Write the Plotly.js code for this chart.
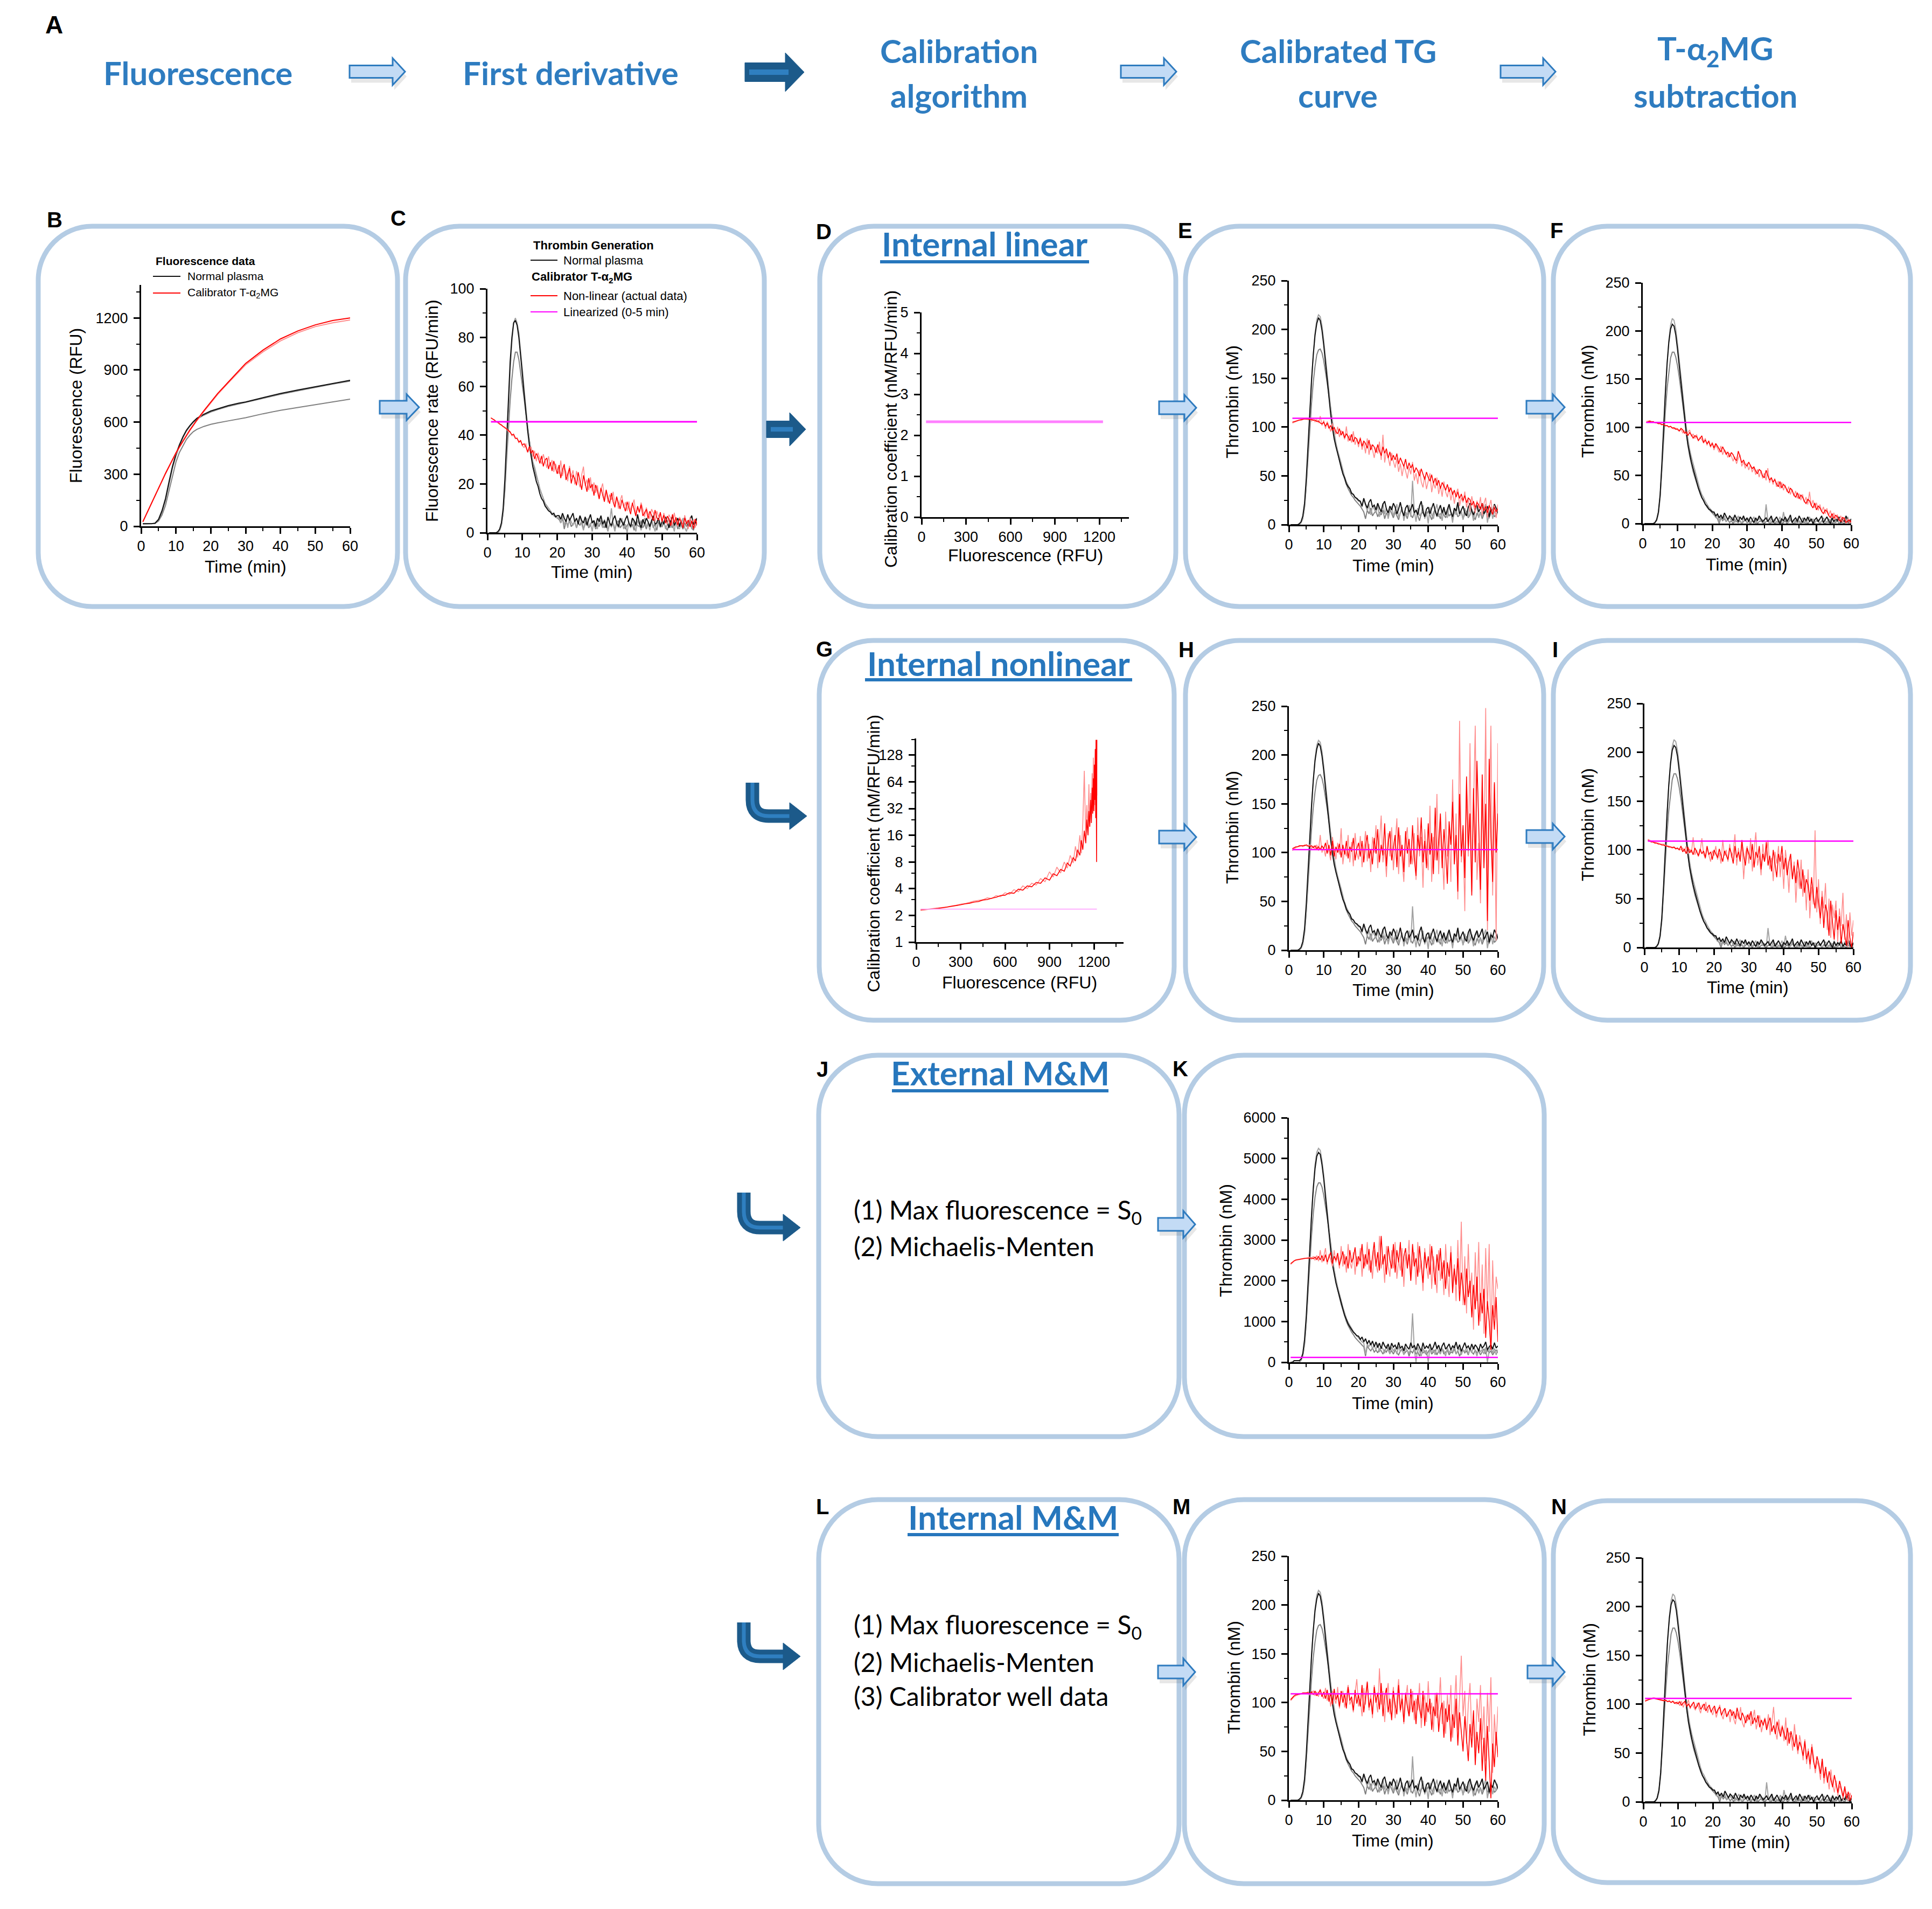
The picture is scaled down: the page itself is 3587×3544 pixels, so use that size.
<!DOCTYPE html>
<html>
<head>
<meta charset="utf-8">
<script src="https://cdn.plot.ly/plotly-3.0.1.min.js"></script>
<style>
  body { margin: 0; background: #ffffff; }
  #chart { width: 3587px; height: 3544px; }
</style>
</head>
<body>
<div id="chart"></div>
<script>
// ---------------- data ----------------
// time grid of the kinetic reads (min)
var tMin = [
  0.5,1,1.5,2,2.5,3,3.5,4,4.5,5,
  5.5,6,6.5,7,7.5,8,8.5,9,9.5,10,
  10.5,11,11.5,12,12.5,13,13.5,14,14.5,15,
  15.5,16,16.5,17,17.5,18,18.5,19,19.5,20,
  20.5,21,21.5,22,22.5,23,23.5,24,24.5,25,
  25.5,26,26.5,27,27.5,28,28.5,29,29.5,30,
  30.5,31,31.5,32,32.5,33,33.5,34,34.5,35,
  35.5,36,36.5,37,37.5,38,38.5,39,39.5,40,
  40.5,41,41.5,42,42.5,43,43.5,44,44.5,45,
  45.5,46,46.5,47,47.5,48,48.5,49,49.5,50,
  50.5,51,51.5,52,52.5,53,53.5,54,54.5,55,
  55.5,56,56.5,57,57.5,58,58.5,59,59.5,60
];

// B: raw fluorescence (RFU)
var tB = [0.5,1,2,3,4,5,6,7,8,9,10,11,12,13,14,15,16,18,20,22,25,28,30,35,40,45,50,55,60];
var fluoPlasma1 = [15,15,15,15,18,40,90,160,255,345,415,470,515,553,580,603,622,645,664,677,695,709,716,741,765,785,804,823,841];
var fluoPlasma2 = [14,14,14,14,16,35,82,150,245,335,405,462,510,548,576,599,617,640,658,672,690,704,712,737,760,780,800,819,836];
var fluoPlasma3 = [15,15,15,15,16,30,65,120,205,295,370,425,462,500,525,545,558,575,587,596,607,617,625,648,668,684,700,716,732];
var fluoCal1 = [26,47,92,135,178,220,262,305,345,385,423,458,492,523,555,585,612,665,716,765,830,895,938,1015,1079,1125,1160,1185,1200];
var fluoCal2 = [26,46,90,133,176,218,260,302,342,382,420,455,489,520,551,581,608,660,711,760,825,888,930,1005,1068,1115,1150,1172,1188];

// C: first derivative (RFU/min)
var rateC1 = [
  0,0,0,0,0,0.5,1.5,4,10,22,
  38,55,70,80,86,87,85,80,73,65,
  57,49,42,36,31,27,24,21,19,16,
  14,13,11,10,9,8.5,7.5,8,6.5,7,
  7,5.5,8,6,4.5,7.5,5,6.5,8,4.5,
  6,3.5,7,5,4,6.5,3,5.5,7.5,4,
  5,2.5,6,4.5,7,3.5,5,2,6.5,4,
  3,5.5,7,4,2.5,6,4.5,3,5.5,7,
  4,2.5,6,5,3,7.5,4,2,5.5,3.5,
  6,4.5,2.5,5,7,3.5,4,6,2.5,5,
  3.5,6.5,4,2,5,7,3,4.5,6,2.5,
  5,3,6.5,4,2.5,5.5,7,3.5,4,6
];
var rateC2 = [
  0,0,0,0,0,0,1,3,8,18,
  33,50,66,78,86,88,86,82,75,67,
  59,51,44,38,33,29,27,24,21,18,
  16,14,12,11,10,9,8,7,7,6,
  6.5,4,7,3,5.5,2,6,4.5,3,5,
  2,5,7,3.5,1,4.5,6,2.5,4,0.5,
  5,3,1.5,6,4,2,5.5,3,0.5,4.5,
  10,3.5,0.5,5,2,4,6,1.5,3.5,0,
  4.5,2,6,3,0.5,5,3.5,1,4,6,
  2.5,4,1,5.5,3,0.5,4.5,6,2,3.5,
  5,1.5,3.5,6,2,4,0.5,5,3,1.5,
  4,6,2,0.5,3.5,5.5,1.5,4.5,2.5,5
];
var rateC3 = [
  0,0,0,0,0,0,1,3,8,17,
  30,43,54,63,70,74,74,71,66,61,
  55,49,43,38,33,29,26,23,21,18,
  16,14,12,11,10,9,8,7,6.5,6,
  5.5,4,6,1.5,4.5,3,5,2.5,3.5,4.5,
  2,4,3,5,1.5,3.5,4.5,2,3,5,
  3.5,1.5,4,2.5,5,3,2,4.5,1,3.5,
  2.5,4,1.5,3.5,5,2,3,4.5,1.5,3,
  4,2,3.5,1,4.5,3,2.5,5,2,3.5,
  1.5,4,3,5,2,3.5,1,4.5,3,2.5,
  4,2.5,1,3.5,5,2,3,4.5,1.5,3.5,
  3,1.5,4,2.5,5,3.5,2,1,4,3
];
var rateCalC1 = [
  null,47,46.5,46.2,45.5,45.3,44.6,44.2,43.5,43.2,
  42.4,42,41.2,40.1,40.4,38.8,38.6,37.2,37.8,35.9,
  36.5,35.2,33.1,35.4,32.6,33.8,30.2,32.5,31,28.4,
  31.5,27.2,29.8,30.6,26.1,28.9,25.3,29.4,26.6,24.1,
  27.8,22.4,25.9,28.1,21.6,24.3,26.5,20.2,23.7,22.1,
  19.4,24.8,21.2,17.6,23.5,20.1,16.8,22.4,18.3,19.9,
  15.2,19.6,17.1,13.8,18.4,15.5,12.7,17.6,14.2,11.9,
  16.3,12.6,10.4,14.8,12.1,9.7,13.5,11.2,8.8,12.7,
  10.1,7.6,12.3,9.2,6.8,10.9,8.4,11.5,6.9,8.2,
  9.6,5.7,8.8,7.1,4.9,9.3,6.2,5.1,8.4,4.6,
  7.2,3.9,6.8,5.5,2.8,7.6,4.1,6.3,3.2,5.8,
  4.3,1.9,6.1,3.6,5.2,2.4,4.9,1.6,5.7,3.3
];
var rateCalC2 = [
  null,47.2,46.6,46,45.4,45,44.4,44,43.6,42.8,
  42.6,41.3,41.5,39.7,39.9,38.5,38.9,36.9,37.6,35.6,
  34.9,36.6,32.8,34.1,35.2,31.1,33.6,29.3,32.8,30.4,
  28.1,32.2,29.4,26.6,31.3,27.4,29.8,24.9,28.3,26.2,
  24.1,29.6,23.2,26.8,24.9,21.1,27.4,22.8,25.6,19.8,
  25.3,21.4,18.6,23.9,27.1,19.2,21.8,17.4,22.7,16.9,
  20.6,16.3,19.4,14.1,17.8,20.2,13.6,16.9,12.4,15.7,
  13.4,16.8,11.2,14.6,9.8,13.1,15.4,10.3,12.6,8.9,
  12.8,9.1,11.4,13.6,7.4,10.2,8.1,12.4,9.6,6.5,
  10.3,7.8,5.6,9.7,8.2,4.4,8.9,6.6,7.9,4.2,
  8.1,5.2,3.4,7.4,5.9,3.1,8.2,4.6,2.6,6.4,
  5.1,2.8,7.2,3.9,1.5,6.3,3.7,5.4,2.1,4.8
];
var tLin = [1, 60];
var tLin0 = [0.5, 60];
var rateLinC = [45.5, 45.5];

// D and G: calibration coefficient (nM/RFU/min) vs fluorescence (RFU)
var fluoLinD = [30, 1225];
var cfLinD = [2.33, 2.33];
var fluoG = [
  30,60,90,120,150,180,210,240,270,300,
  330,360,390,420,450,480,510,540,570,600,
  630,660,690,720,750,780,810,840,870,900,
  925,950,975,1000,1020,1040,1060,1075,1090,1105,
  1115,1125,1135,1145,1152,1160,1166,1172,1178,1183,
  1188,1192,1196,1200,1203,1206,1209,1212,1214,1216,
  1218,1220
];
var cfG1 = [
  2.30,2.32,2.35,2.38,2.40,2.44,2.48,2.52,2.58,2.63,
  2.70,2.74,2.82,2.86,2.98,3.02,3.12,3.20,3.35,3.38,
  3.60,3.55,3.95,3.85,4.30,4.20,4.70,4.60,5.30,5.00,
  5.90,5.60,6.60,6.30,7.80,7.20,9.00,8.20,11,9.5,
  14,11,18,13,24,16,30,20,40,22,
  55,28,70,30,100,40,150,25,190,60,
  8,190
];
var cfG2 = [
  2.30,2.33,2.36,2.38,2.42,2.46,2.50,2.56,2.60,2.68,
  2.72,2.80,2.90,2.95,3.00,3.15,3.10,3.35,3.25,3.60,
  3.45,3.90,3.70,4.30,4.00,4.60,4.40,5.20,4.80,6.20,
  5.40,7.00,6.00,8.00,6.80,9.50,7.80,12,9,16,
  10,22,85,14,35,18,60,20,48,26,
  80,30,120,40,70,35,110,50,160,30,
  130,45
];
var fluoLinG = [30, 1220];
var cfLinG = [2.35, 2.35];

// thrombin of normal plasma (nM), calibrated (E, H, M)
var thrPlasma1 = [
  0,0,0,0,0,1,3,9,22,48,
  82,118,148,174,194,206,212,209,199,184,
  166,148,130,113,99,88,80,73,66,59,
  52,48,42,39,37,32,31,28,27,25,
  24,19,27,21,17,23,26,18,20,15,
  22,17,13,21,24,16,12,19,15,22,
  18,11,16,23,14,9,17,20,13,16,
  21,12,15,10,19,24,13,8,16,18,
  11,17,22,14,9,15,20,12,18,10,
  16,21,13,8,17,14,23,11,15,19,
  12,9,18,22,14,10,16,20,13,17,
  22,11,15,19,8,16,13,21,17,12
];
var thrPlasma2 = [
  0,0,0,0,0,0,2,6,17,40,
  74,112,146,174,196,210,215,213,204,189,
  171,153,136,120,106,94,84,76,70,63,
  56,49,44,40,37,33,31,28,26,24,
  23,18,26,20,14,21,10,19,16,12,
  20,8,15,22,11,17,6,14,19,9,
  15,21,7,12,18,4,13,10,20,8,
  45,14,3,17,9,12,20,6,13,1,
  18,10,6,15,21,8,12,4,16,11,
  7,19,13,2,16,10,22,9,14,5,
  17,11,8,20,13,4,15,18,7,12,
  9,16,21,2,12,18,6,14,10,17
];
var thrPlasma3 = [
  0,0,0,0,0,0,2,7,18,40,
  68,98,124,146,162,174,179,180,176,168,
  157,145,132,118,104,92,82,73,66,58,
  52,46,41,37,33,30,28,25,23,21,
  19,16,13,6,15,11,17,9,12,14,
  8,13,10,15,6,12,9,16,11,7,
  13,9,5,12,15,8,11,6,14,10,
  7,12,15,9,4,11,13,8,10,14,
  9,5,12,16,8,11,6,13,10,7,
  14,9,11,5,12,15,8,10,13,6,
  11,14,7,10,16,9,5,12,8,13,
  6,11,14,9,7,12,15,8,10,13
];
// thrombin of normal plasma after T-a2MG subtraction (F, I, N)
var thrSub1 = [
  0,0,0,0,0,0,1,4,12,30,
  62,100,136,166,188,202,207,205,196,181,
  163,145,127,110,95,82,72,64,57,50,
  43,37,32,27,24,20,18,15,14,12,
  12,8,10,6,9,5,11,7,4,8,
  6,3,9,5,2,7,4,8,3,6,
  2,7,4,1,6,3,8,5,2,4,
  6,2,5,8,1,4,7,3,0,5,
  3,7,2,5,9,1,4,6,2,8,
  4,1,6,3,7,2,5,0,4,6,
  2,5,8,1,4,7,3,0,6,2,
  5,3,7,1,4,2,8,3,0,5
];
var thrSub2 = [
  0,0,0,0,0,0,1,3,10,27,
  58,97,134,166,190,206,213,211,202,187,
  169,151,133,116,101,88,77,69,62,55,
  48,41,35,30,27,23,20,17,15,13,
  10,6,9,3,7,4,8,2,5,6,
  3,7,1,5,8,2,0,6,3,4,
  5,1,4,7,0,3,6,2,4,1,
  20,4,0,6,2,5,1,3,7,0,
  12,3,5,1,6,2,4,0,5,3,
  1,6,3,0,4,7,2,5,1,3,
  4,0,2,6,3,1,5,2,7,0,
  3,5,1,0,6,2,4,7,1,3
];
var thrSub3 = [
  0,0,0,0,0,0,1,4,11,28,
  56,88,116,140,158,172,178,178,173,164,
  152,138,123,108,94,81,70,61,54,48,
  42,36,31,27,23,20,17,15,13,11,
  9,7,5,0,6,3,5,2,4,1,
  3,0,4,2,1,3,0,2,4,1,
  2,0,3,1,4,0,2,3,1,0,
  2,3,0,1,4,0,2,1,3,0,
  1,3,0,2,4,1,0,3,1,2,
  0,2,1,3,0,2,4,0,1,3,
  2,0,3,1,0,2,1,4,0,2,
  1,3,0,2,1,0,3,1,2,0
];
// thrombin of normal plasma, external M&M (K)
var thrK1 = [
  0,0,40,40,40,40,80,220,560,1150,
  1950,2850,3600,4250,4750,5050,5150,5100,4850,4500,
  4050,3600,3150,2750,2400,2150,1950,1780,1620,1450,
  1280,1150,1050,940,870,800,740,700,650,640,
  560,620,500,580,450,540,420,520,380,500,
  360,470,330,500,400,340,450,300,470,370,
  420,320,490,340,400,280,450,370,320,480,
  350,420,300,460,370,270,480,330,400,350,
  450,300,380,500,330,420,270,400,480,320,
  380,450,300,400,350,500,320,430,270,380,
  480,350,400,300,450,320,430,370,270,450,
  350,400,500,300,380,430,320,480,350,400
];
var thrK2 = [
  0,0,0,0,0,0,50,150,420,980,
  1800,2750,3600,4300,4850,5150,5250,5200,4950,4600,
  4150,3700,3250,2850,2500,2250,2050,1850,1700,1520,
  1350,1200,1080,980,900,820,760,700,650,600,
  560,500,470,200,440,390,470,330,410,300,
  460,250,380,330,220,420,300,200,370,280,
  340,200,390,260,310,180,360,280,230,330,
  1200,320,0,370,260,150,340,220,300,0,
  370,230,310,180,400,260,200,340,280,150,
  360,230,310,250,420,200,290,340,180,310,
  260,370,200,310,230,400,280,150,340,260,
  310,200,370,0,290,420,230,340,180,310
];
var thrK3 = [
  0,0,0,0,0,0,50,170,450,980,
  1700,2450,3100,3650,4050,4300,4400,4400,4300,4100,
  3850,3550,3250,2900,2550,2250,2000,1780,1600,1420,
  1270,1130,1000,900,810,740,680,610,560,520,
  470,420,380,150,400,330,280,350,250,300,
  230,330,280,200,300,250,350,230,280,200,
  300,230,180,280,330,200,250,300,150,280,
  230,330,200,250,150,300,230,280,180,250,
  330,200,250,300,180,280,230,330,200,250,
  300,180,250,230,330,200,280,150,250,300,
  230,280,180,330,250,200,300,230,280,180,
  250,330,200,300,230,280,180,250,300,230
];

// calibrator T-a2MG well, thrombin (nM) per method
var calE1 = [
  null,105,105.6,106.3,106.8,107.2,107.6,108.1,108.3,108.1,
  108.4,107.6,107.9,106.8,107.3,105.6,106.2,104.1,103.2,104.9,
  100.8,104.2,98.6,101.7,96.4,99.8,95.2,93.1,98.4,91.7,
  95.6,88.9,93.2,90.4,86.1,92.6,84.7,89.3,87.8,82.6,
  88.4,80.3,85.9,83.1,78.2,86.7,76.4,81.9,79.6,73.8,
  82.1,75.4,70.6,79.8,73.2,77.9,68.1,74.6,65.7,71.2,
  66.4,72.8,62.1,68.5,64.3,59.6,67.2,56.8,63.4,58.1,
  61.7,53.2,58.4,55.1,49.6,57.3,51.8,46.2,53.9,48.4,
  44.6,51.2,42.3,47.8,40.1,45.6,36.9,43.2,39.7,35.2,
  41.3,33.6,37.9,30.8,35.4,28.2,33.7,26.9,31.5,24.6,
  29.8,22.4,27.3,25.6,19.8,24.1,17.3,22.8,20.4,15.6,
  21.9,14.2,18.6,12.1,19.7,15.3,10.4,17.8,13.2,16.4
];
var calE2 = [
  null,104,104.8,105.9,106.4,107.1,106.8,107.7,108.6,109.2,
  107.3,108.9,106.1,108.2,105.4,107.6,104.3,111.2,101.6,106.8,
  98.3,105.6,101.2,95.4,103.8,97.1,92.6,100.4,89.8,96.3,
  93.1,87.4,100.6,85.2,91.8,84.1,95.7,81.9,88.3,79.4,
  89.6,76.8,84.2,73.1,88.4,71.6,82.3,76.9,68.4,79.2,
  72.8,85.1,66.3,92.1,63.7,74.9,69.2,60.1,73.6,64.8,
  58.3,67.9,54.1,62.7,49.8,60.6,55.2,47.3,58.9,51.6,
  64.2,45.1,52.8,41.6,56.3,43.9,38.2,49.7,36.4,44.1,
  52.6,33.2,42.9,37.1,48.3,31.4,39.8,28.6,44.2,33.5,
  28.1,38.6,24.9,34.2,21.4,31.7,36.8,19.2,27.5,22.8,
  33.9,17.6,26.2,13.4,29.1,20.3,11.8,24.6,16.7,28.3,
  9.4,21.8,27.6,7.2,18.1,25.3,11.6,19.8,6.9,20.7
];
var calF1 = [
  null,105,105.8,106.2,105.6,105.9,104.8,104.6,103.7,103.9,
  102.6,102.9,101.4,101.8,100.2,100.9,99.1,99.6,97.8,98.4,
  96.2,98.9,97.4,93.8,95.2,91.4,94.6,92.1,88.7,91.3,
  90.1,86.4,88.3,91.2,84.1,86.9,82.8,85.6,80.2,83.4,
  78.6,83.2,80.4,76.9,74.3,79.8,76.2,71.9,74.4,69.1,
  73.8,71.5,67.2,65.4,75.3,68.9,63.2,66.1,61.4,59.7,
  63.8,60.3,57.1,58.9,54.6,51.7,56.2,54.8,49.3,47.6,
  55.4,49.8,45.2,47.6,43.1,45.9,41.4,38.2,43.7,36.9,
  40.8,38.4,35.2,31.6,36.9,34.3,29.8,27.2,32.1,25.7,
  29.6,27.4,23.1,20.8,25.2,23.6,18.9,16.2,21.4,14.1,
  18.2,16.4,12.6,10.3,14.1,12.9,8.6,6.2,10.4,5.3,
  8.7,7.1,3.6,2.2,6.4,5.2,1.1,2.6,3.8,1.4
];
var calF2 = [
  null,106,106.3,106.9,106.1,105.7,105.4,104.9,104.2,103.6,
  103.4,102.7,102.1,101.3,100.6,101.2,99.4,98.1,99.3,97.2,
  95.8,97.9,94.1,96.6,92.3,94.9,97.2,90.4,93.1,88.2,
  92.4,85.6,89.8,87.1,83.4,88.6,81.2,86.3,79.1,84.5,
  76.3,81.4,78.2,73.8,80.6,71.4,76.8,74.2,68.6,73.1,
  70.3,64.8,69.4,62.1,67.8,71.6,59.4,64.2,57.3,62.8,
  55.6,60.9,53.4,58.1,50.7,56.3,48.2,55.1,46.9,52.4,
  44.8,57.6,42.3,48.1,40.6,46.9,38.1,44.2,36.4,42.8,
  34.6,40.3,32.8,38.4,30.2,35.6,28.4,33.9,26.1,31.2,
  24.3,30.4,22.1,27.6,19.8,33.1,18.2,24.4,16.3,21.6,
  13.7,19.8,12.4,17.3,10.2,15.8,8.4,13.6,6.1,11.2,
  4.2,9.4,2.6,8.1,1.3,6.7,0.4,5.2,0,3.1
];
var calH1 = [
  null,104,105,106,106,107,107,107,107,108,
  107,106,107,105,107,104,106,103,107,104,
  110,99,108,97,112,96,106,100,109,95,
  108,98,112,94,106,101,115,92,104,110,
  96,112,90,108,118,94,103,88,115,99,
  124,90,108,97,130,86,110,122,92,104,
  118,85,126,96,108,80,122,99,114,88,
  128,94,76,118,102,136,90,112,84,130,
  98,120,78,146,92,110,140,84,124,100,
  68,132,108,152,88,118,60,160,96,128,
  74,178,102,140,56,166,90,194,120,62,
  180,84,150,30,196,116,70,172,100,140
];
var calH2 = [
  null,102,104,105,106,106,107,106,108,107,
  106,108,104,107,103,108,102,118,100,105,
  96,113,101,92,116,104,93,110,98,125,
  88,104,96,118,90,111,86,120,100,93,
  117,85,104,122,91,109,80,116,100,128,
  84,112,138,90,104,75,120,96,126,82,
  106,135,78,118,92,70,114,126,85,104,
  88,120,72,136,96,116,64,124,100,82,
  148,70,116,92,160,78,132,104,62,142,
  96,124,70,175,88,140,52,235,90,120,
  40,170,96,212,60,140,230,72,110,48,
  160,90,248,20,120,230,56,170,10,212
];
var calI1 = [
  null,110,109,108,108,107,107,106,106,105,
  105,104,104,103,103,102,103,101,102,100,
  104,98,101,96,103,97,100,95,102,98,
  94,101,96,99,92,104,95,98,90,100,
  96,92,101,94,88,99,95,90,102,96,
  86,104,92,98,88,110,94,84,102,96,
  90,106,82,98,92,104,80,96,88,108,
  84,94,78,100,86,72,96,88,104,80,
  92,74,88,96,70,84,66,90,76,60,
  80,56,70,64,48,72,54,40,62,46,
  30,52,20,44,36,12,48,26,8,38,
  18,32,4,24,14,2,28,10,0,16
];
var calI2 = [
  null,111,110,109,108,108,107,107,106,106,
  106,105,104,104,103,103,102,102,101,101,
  100,102,98,104,96,101,97,113,95,100,
  93,98,112,96,91,102,95,88,99,94,
  104,90,97,86,110,94,100,88,106,92,
  98,116,84,102,90,108,70,96,104,86,
  112,78,100,118,84,94,74,106,88,96,
  110,80,92,68,98,86,104,72,94,60,
  100,84,56,92,70,88,46,78,60,90,
  52,74,38,80,30,62,44,120,36,70,
  24,58,40,66,18,50,10,44,30,48,
  6,40,22,56,8,34,0,36,12,28
];
var calK1 = [
  2420,2460,2490,2510,2520,2530,2540,2540,2550,2550,
  2560,2550,2560,2540,2580,2520,2600,2510,2620,2480,
  2640,2460,2580,2700,2420,2600,2500,2680,2380,2560,
  2720,2400,2600,2300,2750,2450,2560,2820,2350,2600,
  2480,2900,2300,2650,2400,2780,2200,2600,2950,2350,
  2700,2250,3100,2400,2650,2150,2850,2500,2300,2900,
  2200,2750,2450,2950,2100,2600,2800,2300,2650,2000,
  2900,2350,2550,2100,2850,2400,1950,2700,2300,2600,
  2150,2850,2400,1900,2650,2250,2800,2050,2500,1800,
  2450,2100,2700,1700,2300,1900,2550,1500,2200,1800,
  1400,2300,1600,2000,1100,1900,1300,2100,900,1700,
  1200,1800,600,1500,1000,300,1400,800,1600,500
];
var calK2 = [
  2400,2440,2480,2500,2510,2520,2530,2540,2540,2560,
  2540,2580,2530,2600,2500,2620,2480,2750,2450,2600,
  2800,2400,2650,2500,2350,2750,2450,2600,2300,2850,
  2350,2650,2200,2900,2450,2300,2700,2150,2600,2400,
  2800,2100,2650,2350,2950,2250,2500,2050,2750,2400,
  2200,3100,2300,2600,1950,2850,2350,2100,2750,2300,
  2950,2050,2500,2250,2800,1850,2650,2400,3000,2000,
  2450,2700,1900,2950,2200,2500,1750,2800,2350,2050,
  2900,1800,2600,2250,1700,2750,2000,2450,1650,2900,
  2100,1600,2850,1900,2400,1500,3000,1800,3450,1400,
  2600,1200,2900,1700,2200,800,2700,1500,2950,1000,
  2400,700,2800,1300,2900,400,2500,1100,2100,1800
];
var calM1 = [
  103,105,107,108,108,109,109,110,110,110,
  110,109,111,108,112,107,110,113,106,111,
  104,113,101,110,98,114,103,108,96,112,
  100,109,94,116,102,106,92,113,99,108,
  96,118,90,107,121,95,104,88,116,100,
  110,93,120,86,106,115,90,104,82,112,
  98,88,118,92,104,80,110,96,86,114,
  90,102,78,108,94,84,112,76,100,90,
  104,72,96,86,110,70,92,100,64,94,
  80,98,60,88,74,104,56,90,70,50,
  86,62,40,78,54,92,36,70,48,84,
  30,64,20,76,42,2,58,34,70,44
];
var calM2 = [
  102,104,106,107,108,108,109,109,110,110,
  111,108,110,112,107,111,106,114,108,104,
  115,102,109,96,112,104,99,116,94,108,
  112,95,106,118,98,103,90,110,124,96,
  104,86,115,98,122,92,108,84,118,102,
  90,135,98,112,80,106,120,88,100,116,
  84,106,124,90,110,78,102,118,86,96,
  112,82,104,92,120,74,98,108,80,122,
  88,100,70,110,84,96,126,78,102,68,
  108,82,118,64,96,128,72,104,148,86,
  112,58,98,120,66,90,48,104,80,118,
  62,96,40,110,70,126,28,88,56,96
];
var calN1 = [
  103,104,104.6,105.2,105.8,106.1,105.6,105.2,104.8,104.3,
  104.1,103.4,103.8,102.6,103.1,101.8,102.9,100.7,101.9,100.4,
  102.6,98.9,101.3,103.1,97.6,100.2,96.8,99.7,102.2,95.4,
  98.1,101.6,94.8,97.3,100.4,93.1,96.8,99.2,91.7,95.6,
  98.3,90.4,94.7,97.1,88.6,93.2,95.9,86.9,91.4,94.8,
  88.2,92.6,85.1,96.3,87.9,83.4,91.2,86.7,80.6,89.4,
  84.1,92.8,79.6,86.2,81.3,88.7,76.4,83.9,78.2,85.1,
  73.6,81.4,86.2,71.9,78.3,69.4,82.1,74.6,66.8,77.2,
  70.1,63.4,75.8,59.6,72.3,64.8,56.2,68.9,52.7,61.4,
  55.8,47.2,62.1,43.6,51.9,38.4,56.3,41.2,33.8,46.6,
  39.4,28.6,44.1,24.3,35.8,19.7,31.2,22.6,14.9,27.4,
  18.6,9.3,21.4,12.7,5.6,15.8,3.1,10.4,1.2,6.8
];
var calN2 = [
  104,104.6,105.1,105.8,106.3,106.8,106.2,105.9,105.4,104.9,
  104.6,103.9,104.4,102.8,103.9,101.6,103.4,102.1,100.2,102.6,
  98.4,103.2,96.7,101.8,99.1,104.6,95.2,100.4,97.1,93.8,
  101.4,95.6,90.8,99.7,94.1,102.3,91.2,97.4,93.6,88.9,
  96.8,86.4,93.2,99.4,89.1,84.6,95.1,87.3,92.7,81.6,
  94.2,85.3,79.4,90.8,84.6,97.1,81.2,76.3,88.4,82.6,
  90.6,77.8,85.9,94.3,74.2,82.7,88.6,71.3,79.8,86.2,
  76.4,89.8,68.3,81.1,97.2,72.6,63.8,84.4,70.2,78.6,
  62.1,86.3,57.4,71.2,66.8,52.4,79.6,61.3,48.9,68.2,
  58.3,42.6,64.1,38.7,54.6,33.4,59.2,46.8,29.3,41.6,
  36.2,22.4,43.9,18.6,30.7,25.4,12.8,33.1,17.9,9.6,
  21.6,6.2,16.4,11.8,2.4,13.6,7.1,0.8,9.2,3.4
];
// linearized (0-5 min) calibrator level per panel
var linE = [109, 109];
var linF = [105, 105];
var linH = [103, 103];
var linI = [109, 109];
var linK = [120, 120];
var linM = [109, 109];
var linN = [106, 106];

// ---------------- page geometry ----------------
var W = 3587, H = 3544;
var AX = 'Liberation Sans, Arial, sans-serif';
var HEAD = 'Lato, "Open Sans", sans-serif';
var BLUE = '#2e7cc0';
var BOXC = '#b4cce4';
var BLACK = '#111111', GRAY1 = '#808080', GRAY2 = '#a3a3a3';
var RED = '#ff0000', LRED = '#ff8c8c', MAG = '#ff00ff';

function fx(x) { return x / W; }
function fy(y) { return 1 - y / H; }
function P(x, y) { return fx(x).toFixed(5) + ',' + fy(y).toFixed(5); }

var traces = [];
var layout = {
  width: W, height: H,
  margin: {l: 0, r: 0, t: 0, b: 0},
  paper_bgcolor: '#ffffff', plot_bgcolor: 'rgba(0,0,0,0)',
  showlegend: false,
  font: {family: AX, color: '#000'},
  shapes: [], annotations: []
};

function makeAxes(n, p) {
  var s = n === 1 ? '' : String(n);
  var base = {
    showline: true, linecolor: '#000', linewidth: 3,
    ticks: 'outside', ticklen: 11, tickwidth: 3, tickcolor: '#000',
    showgrid: false, zeroline: false, fixedrange: true,
    tickfont: {family: AX, size: 27, color: '#000'}
  };
  layout['xaxis' + s] = Object.assign({}, base, {
    domain: [fx(p.x0), fx(p.x1)], anchor: 'y' + s, range: p.xr,
    tick0: 0, dtick: p.dx,
    minor: {ticks: 'outside', ticklen: 6, tickwidth: 2, tickcolor: '#000', tick0: 0, dtick: p.mx}
  });
  var ya = Object.assign({}, base, {
    domain: [fy(p.yb), fy(p.yt)], anchor: 'x' + s, range: p.yr, ticklabelstandoff: 5
  });
  if (p.log) {
    ya.type = 'log';
    ya.tickmode = 'array';
    ya.tickvals = [1, 2, 4, 8, 16, 32, 64, 128];
    ya.ticktext = ['1', '2', '4', '8', '16', '32', '64', '128'];
    ya.minor = {ticks: 'outside', ticklen: 6, tickwidth: 2, tickcolor: '#000',
                tickvals: [1.5, 3, 6, 12, 24, 48, 96, 192]};
  } else {
    ya.tick0 = 0; ya.dtick = p.dy;
    ya.minor = {ticks: 'outside', ticklen: 6, tickwidth: 2, tickcolor: '#000', tick0: 0, dtick: p.my};
  }
  layout['yaxis' + s] = ya;
  return {xa: 'x' + s, ya: 'y' + s};
}

function line(ax, x, y, color, width) {
  traces.push({
    type: 'scatter', mode: 'lines', x: x, y: y,
    xaxis: ax.xa, yaxis: ax.ya,
    line: {color: color, width: width}, hoverinfo: 'skip'
  });
}

function txt(x, y, text, size, o) {
  o = o || {};
  layout.annotations.push({
    xref: 'paper', yref: 'paper', x: fx(x), y: fy(y), text: text, showarrow: false,
    xanchor: o.xanchor || 'center', yanchor: 'middle', textangle: o.angle || 0,
    font: {family: o.family || AX, size: size, color: o.color || '#000'}
  });
}

function roundBox(x0, y0, x1, y1, r) {
  var k = 0.5523 * r;
  var d = 'M' + P(x0 + r, y0) + ' L' + P(x1 - r, y0) +
    ' C' + P(x1 - r + k, y0) + ' ' + P(x1, y0 + r - k) + ' ' + P(x1, y0 + r) +
    ' L' + P(x1, y1 - r) +
    ' C' + P(x1, y1 - r + k) + ' ' + P(x1 - r + k, y1) + ' ' + P(x1 - r, y1) +
    ' L' + P(x0 + r, y1) +
    ' C' + P(x0 + r - k, y1) + ' ' + P(x0, y1 - r + k) + ' ' + P(x0, y1 - r) +
    ' L' + P(x0, y0 + r) +
    ' C' + P(x0, y0 + r - k) + ' ' + P(x0 + r - k, y0) + ' ' + P(x0 + r, y0) + ' Z';
  layout.shapes.push({type: 'path', xref: 'paper', yref: 'paper', path: d,
    line: {color: BOXC, width: 9}, fillcolor: 'rgba(0,0,0,0)'});
}

function arrowPath(xs, xe, yc, sh, hh, hl, dx, dy) {
  dx = dx || 0; dy = dy || 0;
  var xb = xe - hl;
  return 'M' + P(xs + dx, yc - sh / 2 + dy) + ' L' + P(xb + dx, yc - sh / 2 + dy) +
    ' L' + P(xb + dx, yc - hh / 2 + dy) + ' L' + P(xe + dx, yc + dy) +
    ' L' + P(xb + dx, yc + hh / 2 + dy) + ' L' + P(xb + dx, yc + sh / 2 + dy) +
    ' L' + P(xs + dx, yc + sh / 2 + dy) + ' Z';
}

function lightArrow(xs, xe, yc, sh, hh, hl) {
  layout.shapes.push({type: 'path', xref: 'paper', yref: 'paper',
    path: arrowPath(xs, xe, yc, sh, hh, hl, 3, 9),
    fillcolor: 'rgba(60,60,60,0.12)', line: {width: 0}});
  layout.shapes.push({type: 'path', xref: 'paper', yref: 'paper',
    path: arrowPath(xs, xe, yc, sh, hh, hl),
    fillcolor: '#c3dbf5', line: {color: '#2e7bbf', width: 3}});
}

function darkArrow(xs, xe, yc, sh, hh, hl) {
  layout.shapes.push({type: 'path', xref: 'paper', yref: 'paper',
    path: arrowPath(xs, xe, yc, sh, hh, hl),
    fillcolor: '#1c5a8a', line: {color: '#1c5a8a', width: 1}});
  layout.shapes.push({type: 'rect', xref: 'paper', yref: 'paper',
    x0: fx(xs + 8), x1: fx(xe - hl + 6), y0: fy(yc - sh * 0.14), y1: fy(yc + sh * 0.14),
    fillcolor: '#2f7fc0', line: {width: 0}});
}

function bentArrow(xv, ytop, yh, xtip) {
  var r = 30, hl = 32, hh = 50;
  var xb = xtip - hl;
  var d = 'M' + P(xv, ytop) + ' L' + P(xv, yh - r) + ' Q' + P(xv, yh) + ' ' + P(xv + r, yh) +
    ' L' + P(xb + 2, yh);
  layout.shapes.push({type: 'path', xref: 'paper', yref: 'paper', path: d,
    line: {color: '#1c5a8a', width: 25}, fillcolor: 'rgba(0,0,0,0)'});
  layout.shapes.push({type: 'path', xref: 'paper', yref: 'paper', path: d,
    line: {color: '#2f7fc0', width: 7}, fillcolor: 'rgba(0,0,0,0)'});
  layout.shapes.push({type: 'path', xref: 'paper', yref: 'paper',
    path: 'M' + P(xb, yh - hh / 2) + ' L' + P(xtip, yh) + ' L' + P(xb, yh + hh / 2) + ' Z',
    fillcolor: '#1c5a8a', line: {color: '#1c5a8a', width: 1}});
}

function hline(x0, x1, y, color, width) {
  layout.shapes.push({type: 'line', xref: 'paper', yref: 'paper',
    x0: fx(x0), x1: fx(x1), y0: fy(y), y1: fy(y), line: {color: color, width: width}});
}

// ---------------- panel boxes ----------------
var R = 100;
roundBox(71, 420, 738, 1126, R);     // B
roundBox(753, 420, 1419, 1126, R);   // C
roundBox(1522, 420, 2183, 1126, R);  // D
roundBox(2201, 420, 2866, 1126, R);  // E
roundBox(2884, 420, 3547, 1126, R);  // F
roundBox(1521, 1189, 2180, 1894, R); // G
roundBox(2201, 1189, 2866, 1894, R); // H
roundBox(2884, 1189, 3547, 1894, R); // I
roundBox(1520, 1959, 2189, 2667, 110); // J
roundBox(2199, 1959, 2867, 2667, 110); // K
roundBox(1520, 2784, 2189, 3497, 110); // L
roundBox(2199, 2784, 2867, 3497, 110); // M
roundBox(2884, 2786, 3547, 3495, R);   // N

// ---------------- header ----------------
txt(100, 46, '<b>A</b>', 46);
var hf = {family: HEAD, color: BLUE};
txt(367, 135, '<b>Fluorescence</b>', 60, hf);
txt(1059, 135, '<b>First derivative</b>', 60, hf);
txt(1780, 94, '<b>Calibration</b>', 60, hf);
txt(1780, 177, '<b>algorithm</b>', 60, hf);
txt(2484, 94, '<b>Calibrated TG</b>', 60, hf);
txt(2484, 177, '<b>curve</b>', 60, hf);
txt(3185, 94, '<b>T-α<sub>2</sub>MG</b>', 60, hf);
txt(3185, 177, '<b>subtraction</b>', 60, hf);
lightArrow(649, 752, 133, 23, 50, 23);
darkArrow(1383, 1493, 134, 35, 72, 35);
lightArrow(2081, 2184, 133, 23, 50, 23);
lightArrow(2786, 2888, 133, 23, 50, 23);

// ---------------- arrows between panels ----------------
lightArrow(705, 778, 756, 24, 48, 23);
darkArrow(1423, 1496, 797, 31, 62, 30);
lightArrow(2152, 2221, 757, 24, 48, 22);
lightArrow(2834, 2905, 756, 24, 48, 22);
bentArrow(1397, 1453, 1515, 1498);
lightArrow(2152, 2221, 1554, 24, 48, 22);
lightArrow(2834, 2905, 1553, 24, 48, 22);
bentArrow(1381, 2214, 2279, 1486);
lightArrow(2150, 2219, 2273, 24, 50, 22);
bentArrow(1381, 3012, 3075, 1486);
lightArrow(2150, 2219, 3104, 24, 50, 22);
lightArrow(2836, 2905, 3104, 24, 50, 22);

// ---------------- panel letters & titles ----------------
var letters = [['B', 101, 408], ['C', 739, 405], ['D', 1529, 430], ['E', 2200, 428], ['F', 2890, 428],
  ['G', 1530, 1205], ['H', 2202, 1206], ['I', 2887, 1206], ['J', 1527, 1985], ['K', 2191, 1984],
  ['L', 1527, 2797], ['M', 2193, 2797], ['N', 2894, 2797]];
letters.forEach(function (l) { txt(l[1], l[2], '<b>' + l[0] + '</b>', 40); });

var tf = {family: HEAD, color: '#2777bd'};
txt(1828, 452, '<b>Internal linear</b>', 62, tf);   hline(1634, 2022, 486, '#2777bd', 6);
txt(1854, 1231, '<b>Internal nonlinear</b>', 62, tf); hline(1606, 2102, 1262, '#2777bd', 6);
txt(1857, 1991, '<b>External M&M</b>', 62, tf);      hline(1656, 2058, 2025, '#2777bd', 6);
txt(1881, 2816, '<b>Internal M&M</b>', 62, tf);      hline(1685, 2077, 2849, '#2777bd', 6);

var bf = {family: HEAD, xanchor: 'left'};
txt(1583, 2249, '(1) Max fluorescence = S<sub>0</sub>', 48, bf);
txt(1583, 2313, '(2) Michaelis-Menten', 48, bf);
txt(1583, 3019, '(1) Max fluorescence = S<sub>0</sub>', 48, bf);
txt(1583, 3085, '(2) Michaelis-Menten', 48, bf);
txt(1583, 3148, '(3) Calibrator well data', 48, bf);

// ---------------- subplots ----------------
var tAx = {xr: [0, 60], dx: 10, mx: 5};
function thrAx(o) { return Object.assign({}, tAx, {yr: [0, 250], dy: 50, my: 25}, o); }

var axB = makeAxes(1, Object.assign({}, tAx, {x0: 262, x1: 650, yb: 977, yt: 529, yr: [0, 1390], dy: 300, my: 150}));
var axC = makeAxes(2, Object.assign({}, tAx, {x0: 905, x1: 1294, yb: 989, yt: 536, yr: [0, 100], dy: 20, my: 10}));
var axD = makeAxes(3, {x0: 1711, x1: 2096, yb: 960, yt: 580, xr: [0, 1400], dx: 300, mx: 150, yr: [0, 5], dy: 1, my: 0.5});
var axE = makeAxes(4, thrAx({x0: 2393, x1: 2781, yb: 974, yt: 521}));
var axF = makeAxes(5, thrAx({x0: 3050, x1: 3437, yb: 972, yt: 525}));
var axG = makeAxes(6, {x0: 1701, x1: 2086, yb: 1749, yt: 1371, xr: [0, 1400], dx: 300, mx: 150, log: true, yr: [0, 2.2945]});
var axH = makeAxes(7, thrAx({x0: 2393, x1: 2781, yb: 1764, yt: 1311}));
var axI = makeAxes(8, thrAx({x0: 3053, x1: 3441, yb: 1759, yt: 1306}));
var axK = makeAxes(9, Object.assign({}, tAx, {x0: 2393, x1: 2781, yb: 2529, yt: 2075, yr: [0, 6000], dy: 1000, my: 500}));
var axM = makeAxes(10, thrAx({x0: 2393, x1: 2781, yb: 3342, yt: 2889}));
var axN = makeAxes(11, thrAx({x0: 3051, x1: 3438, yb: 3345, yt: 2892}));

// B
line(axB, tB, fluoPlasma3, GRAY1, 2);
line(axB, tB, fluoPlasma2, GRAY1, 2);
line(axB, tB, fluoPlasma1, BLACK, 2);
line(axB, tB, fluoCal2, LRED, 2);
line(axB, tB, fluoCal1, RED, 2);
// C
line(axC, tMin, rateC3, GRAY1, 2);
line(axC, tMin, rateC2, GRAY2, 2);
line(axC, tMin, rateC1, BLACK, 2);
line(axC, tMin, rateCalC2, LRED, 1.6);
line(axC, tMin, rateCalC1, RED, 1.6);
line(axC, tLin, rateLinC, MAG, 3);
// D
line(axD, fluoLinD, cfLinD, '#ff80ff', 5);
// G
line(axG, fluoG, cfG2, LRED, 1.6);
line(axG, fluoG, cfG1, RED, 1.6);
line(axG, fluoLinG, cfLinG, '#ffb0ff', 2);

function thrombinPanel(ax, p1, p2, p3, c1, c2, tl, lin) {
  line(ax, tMin, p3, GRAY1, 2);
  line(ax, tMin, p2, GRAY2, 2);
  line(ax, tMin, p1, BLACK, 2);
  line(ax, tMin, c2, LRED, 1.6);
  line(ax, tMin, c1, RED, 1.6);
  line(ax, tl, lin, MAG, 2.5);
}
thrombinPanel(axE, thrPlasma1, thrPlasma2, thrPlasma3, calE1, calE2, tLin, linE);
thrombinPanel(axF, thrSub1, thrSub2, thrSub3, calF1, calF2, tLin, linF);
thrombinPanel(axH, thrPlasma1, thrPlasma2, thrPlasma3, calH1, calH2, tLin, linH);
thrombinPanel(axI, thrSub1, thrSub2, thrSub3, calI1, calI2, tLin, linI);
thrombinPanel(axK, thrK1, thrK2, thrK3, calK1, calK2, tLin0, linK);
thrombinPanel(axM, thrPlasma1, thrPlasma2, thrPlasma3, calM1, calM2, tLin0, linM);
thrombinPanel(axN, thrSub1, thrSub2, thrSub3, calN1, calN2, tLin0, linN);

// ---------------- axis titles ----------------
var yt = {angle: -90};
txt(141, 753, 'Fluorescence (RFU)', 32, yt);   txt(456, 1052, 'Time (min)', 32);
txt(802, 763, 'Fluorescence rate (RFU/min)', 32, yt); txt(1099, 1062, 'Time (min)', 32);
txt(1654, 797, 'Calibration coefficient (nM/RFU/min)', 32, yt); txt(1904, 1031, 'Fluorescence (RFU)', 32);
txt(2288, 746, 'Thrombin (nM)', 32, yt);  txt(2587, 1050, 'Time (min)', 32);
txt(2948, 745, 'Thrombin (nM)', 32, yt);  txt(3243, 1048, 'Time (min)', 32);
txt(1622, 1585, 'Calibration coefficient (nM/RFU/min)', 32, yt); txt(1893, 1824, 'Fluorescence (RFU)', 32);
txt(2288, 1536, 'Thrombin (nM)', 32, yt); txt(2587, 1838, 'Time (min)', 32);
txt(2948, 1531, 'Thrombin (nM)', 32, yt); txt(3245, 1833, 'Time (min)', 32);
txt(2276, 2303, 'Thrombin (nM)', 32, yt); txt(2586, 2605, 'Time (min)', 32);
txt(2291, 3114, 'Thrombin (nM)', 32, yt); txt(2586, 3417, 'Time (min)', 32);
txt(2951, 3118, 'Thrombin (nM)', 32, yt); txt(3248, 3420, 'Time (min)', 32);

// ---------------- in-plot legends (B, C) ----------------
var lg = {xanchor: 'left'};
txt(287, 485, '<b>Fluorescence data</b>', 21, lg);
hline(284, 335, 513, BLACK, 2);
txt(346, 513, 'Normal plasma', 21, lg);
hline(284, 335, 544, RED, 2);
txt(346, 544, 'Calibrator T-α<sub>2</sub>MG', 21, lg);

txt(988, 455, '<b>Thrombin Generation</b>', 22, lg);
hline(985, 1035, 483, BLACK, 2);
txt(1044, 483, 'Normal plasma', 22, lg);
txt(985, 515, '<b>Calibrator T-α<sub>2</sub>MG</b>', 22, lg);
hline(985, 1035, 549, RED, 2);
txt(1044, 549, 'Non-linear (actual data)', 22, lg);
hline(985, 1035, 579, MAG, 2);
txt(1044, 579, 'Linearized (0-5 min)', 22, lg);

Plotly.newPlot('chart', traces, layout, {staticPlot: true});
</script>
</body>
</html>
